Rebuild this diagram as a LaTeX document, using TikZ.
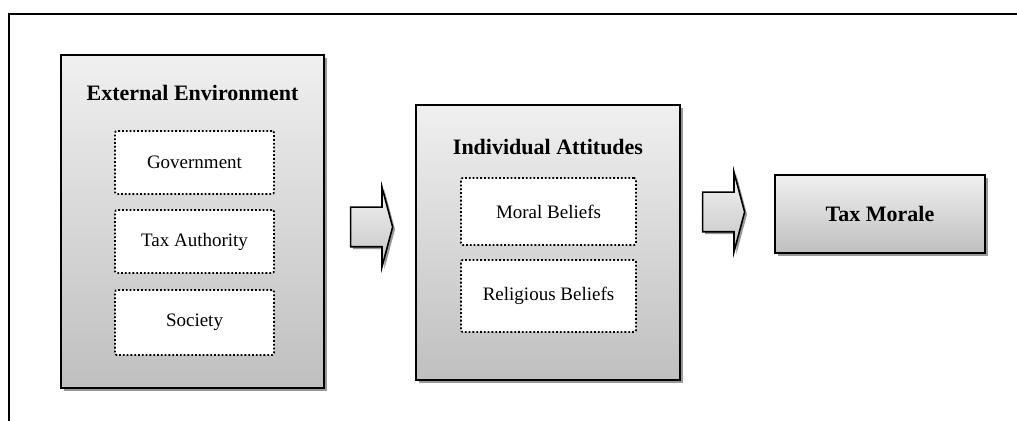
\documentclass[tikz,border=0pt]{standalone}
\usepackage{fontspec}
\setmainfont{Liberation Serif}
\usetikzlibrary{positioning,shapes.arrows,shadows}

\begin{document}
\begin{tikzpicture}[x=0.5pt,y=-0.5pt,thick]
  \tikzstyle{group}=[draw,line width=1pt,top color=gray!12,bottom color=gray!50,
    drop shadow={shadow xshift=1.5pt,shadow yshift=-1.5pt,fill=black,opacity=0.4}]
  \tikzstyle{item}=[draw,fill=white,densely dotted,line width=0.9pt,rounded corners=1pt,
    font=\fontsize{9.5}{11}\selectfont]
  \tikzstyle{title}=[font=\fontsize{11}{13}\selectfont\bfseries]
  \tikzstyle{flow}=[single arrow,draw,line width=0.8pt,inner sep=0pt,text height=19pt,text depth=0pt,
    minimum height=21pt,single arrow head extend=10pt,single arrow tip angle=150,
    top color=gray!10,bottom color=gray!45,
    drop shadow={shadow xshift=1.2pt,shadow yshift=-1.2pt,fill=black,opacity=0.4}]

  \useasboundingbox (0,0) rectangle (1017,421);
  \draw[line width=1pt] (9,421) -- (9,14) -- (1017,14);

  % external environment
  \node[group,minimum width=131.5pt,minimum height=166.5pt] (ext) at (192.5,221.5) {};
  \node[title] (extT) at (192.5,93) {External Environment};
  \node[item,minimum width=79.5pt,minimum height=31.5pt] (gov) at (194.5,162.5) {Government};
  \node[item,minimum width=79.5pt,minimum height=31.5pt] (auth) at (194.5,241.5) {Tax Authority};
  \node[item,minimum width=79.5pt,minimum height=32.5pt] (soc) at (194.5,322.5) {Society};

  % individual attitudes
  \node[group,minimum width=132pt,minimum height=137.5pt] (ind) at (548,242.5) {};
  \node[title] (indT) at (548,147) {Individual Attitudes};
  \node[item,minimum width=87.5pt,minimum height=33.5pt] (moral) at (548.5,211.5) {Moral Beliefs};
  \node[item,minimum width=87.5pt,minimum height=36pt] (relig) at (548.5,296) {Religious Beliefs};

  % tax morale
  \node[group,title,minimum width=105pt,minimum height=39pt] (tm) at (880,214) {Tax Morale};

  % arrows
  \node[flow] (a1) at (369,227) {};
  \node[flow] (a2) at (721,212) {};
\end{tikzpicture}
\end{document}
